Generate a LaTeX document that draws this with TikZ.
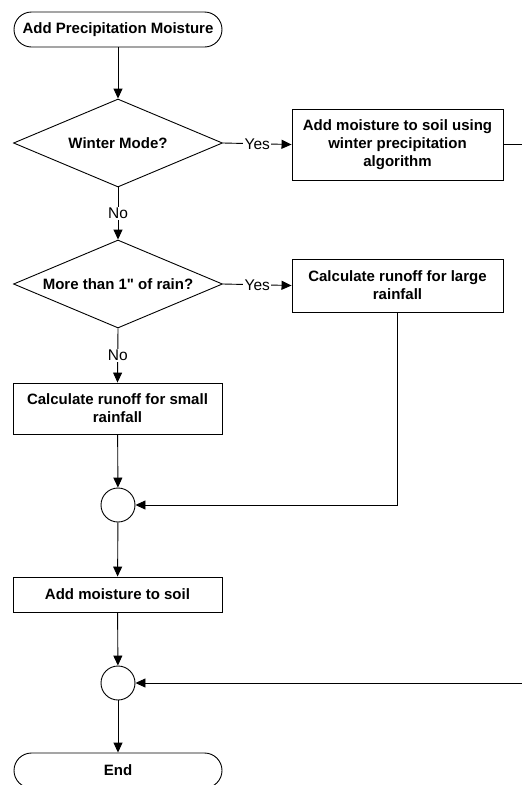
\documentclass[tikz,border=0pt]{standalone}
\usepackage{fontspec}
\setmainfont{Liberation Sans}
\usetikzlibrary{shapes.geometric,arrows.meta}
\begin{document}
\begin{tikzpicture}[x=1pt,y=-1pt,
  line width=0.9pt,
  every node/.style={font=\fontsize{15}{18}\selectfont\bfseries, align=center, inner sep=0pt},
  terminal/.style={draw, rectangle, rounded corners=17.5pt, minimum width=208pt, minimum height=35pt},
  decision/.style={draw, diamond, aspect=2.375, minimum width=209pt, minimum height=88pt},
  process/.style={draw, rectangle},
  junction/.style={draw, circle, minimum size=34pt},
  flowlabel/.style={font=\fontsize{15.5}{18}\selectfont, fill=white, inner sep=1.5pt},
  flow/.style={-{Triangle[length=10pt,width=9pt]}}
]
\useasboundingbox (0,0) rectangle (522,785);

% shapes of the flowchart
\node[terminal] (start) at (118,29.5) {Add Precipitation Moisture};
\node[decision] (winter) at (118,143) {Winter Mode?};
\node[process, minimum width=211pt, minimum height=71pt] (wintersoil) at (397.5,144.5)
  {Add moisture to soil using\\winter precipitation\\algorithm};
\node[decision] (rain) at (118,284) {More than 1\textquotedbl{} of rain?};
\node[process, minimum width=211pt, minimum height=53pt] (large) at (397.5,285.5)
  {Calculate runoff for large\\rainfall};
\node[process, minimum width=209pt, minimum height=51pt] (small) at (117.5,408.5)
  {Calculate runoff for small\\rainfall};
\node[junction] (joinA) at (118,505) {};
\node[process, minimum width=209pt, minimum height=35pt] (soil) at (117.5,594.5)
  {Add moisture to soil};
\node[junction] (joinB) at (118,683) {};
\node[terminal] (finish) at (118,770.5) {End};

% the winter branch leaves and re-enters at the right margin
\coordinate (rimOut) at (522,144.5);
\coordinate (rimIn) at (522,683);

% connectors
\draw[flow] (start) -- (winter);
\draw[flow] (winter.east) -- node[flowlabel] {Yes} (wintersoil.west);
\draw[flow] (winter.south) -- node[flowlabel] {No} (rain.north);
\draw[flow] (rain.east) -- node[flowlabel] {Yes} (large.west);
\draw[flow] (rain.south) -- node[flowlabel] {No} (small.north);
\draw[flow] (small) -- (joinA);
\draw[flow] (large.south) |- (joinA.east);
\draw[flow] (joinA) -- (soil);
\draw[flow] (soil) -- (joinB);
\draw[flow] (joinB) -- (finish);
\draw (wintersoil.east) -- (rimOut);
\draw[flow] (rimIn) -- (joinB.east);
\end{tikzpicture}
\end{document}
